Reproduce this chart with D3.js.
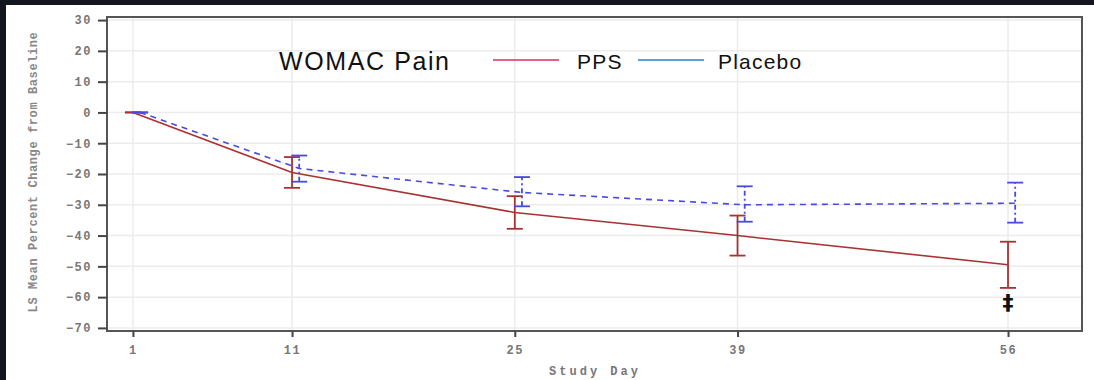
<!DOCTYPE html>
<html>
<head>
<meta charset="utf-8">
<script src="https://cdn.jsdelivr.net/npm/d3@7"></script>
<style>
  body { margin: 0; background: #14161f; }
  svg { display: block; }
</style>
</head>
<body>
<svg id="chart"></svg>
<script>
// study days and LS mean % change
var days = [1, 11, 25, 39, 56];
var ppsMean = [0, -19.5, -32.5, -40, -49.5];
var ppsLow = [0, -24.5, -37.8, -46.5, -57];
var ppsHigh = [0, -14.5, -27.2, -33.5, -42];
var placeboMean = [0, -18.2, -26, -30, -29.5];
var placeboLow = [0, -22.5, -30.5, -35.5, -35.8];
var placeboHigh = [0, -14, -21, -24, -22.8];
var yTicks = [30, 20, 10, 0, -10, -20, -30, -40, -50, -60, -70];

var width = 1094, height = 380;
var svg = d3.select("#chart").attr("width", width).attr("height", height);

// white page with dark strip top and left
svg.append("rect").attr("x", 6).attr("y", 5).attr("width", width - 6).attr("height", height - 5).attr("fill", "#fff");

// plot box (named to avoid window.top)
var pLeft = 107, pRight = 1082, pTop = 17, pBottom = 331;
var x = d3.scaleLinear().domain([-0.63, 60.65]).range([pLeft, pRight]);
var y = d3.scaleLinear().domain([31, -71]).range([pTop, pBottom]);

// grid
svg.append("g").selectAll("line").data(yTicks).enter().append("line")
    .attr("x1", pLeft).attr("x2", pRight)
    .attr("y1", function(d) { return y(d); }).attr("y2", function(d) { return y(d); })
    .attr("stroke", "#ececec").attr("stroke-width", 1.5);
svg.append("g").selectAll("line").data(days).enter().append("line")
    .attr("y1", pTop).attr("y2", pBottom)
    .attr("x1", function(d) { return x(d); }).attr("x2", function(d) { return x(d); })
    .attr("stroke", "#ececec").attr("stroke-width", 1.5);

// frame
svg.append("rect").attr("x", pLeft).attr("y", pTop).attr("width", pRight - pLeft).attr("height", pBottom - pTop)
    .attr("fill", "none").attr("stroke", "#555").attr("stroke-width", 2);

// axes
var mono = "'Liberation Mono', 'DejaVu Sans Mono', monospace";
var yAxis = svg.append("g").attr("transform", "translate(" + pLeft + ",0)")
    .call(d3.axisLeft(y).tickValues(yTicks).tickSize(9).tickPadding(6).tickFormat(function(d) { return String(d).replace("-", "\u2212"); }));
var xAxis = svg.append("g").attr("transform", "translate(0," + pBottom + ")")
    .call(d3.axisBottom(x).tickValues(days).tickSize(6).tickPadding(8));
[yAxis, xAxis].forEach(function(a) {
  a.select(".domain").remove();
  a.selectAll(".tick line").attr("stroke", "#444").attr("stroke-width", 2);
  a.selectAll(".tick text").attr("fill", "#777").style("font-family", mono)
    .style("font-size", "12px").style("font-weight", "bold").style("letter-spacing", "1.5px");
});

svg.append("text").attr("x", 595).attr("y", 375).attr("text-anchor", "middle")
    .style("font-family", mono).style("font-size", "12px").style("font-weight", "bold").style("letter-spacing", "3px")
    .attr("fill", "#777").text("Study Day");
svg.append("text").attr("transform", "translate(37,172) rotate(-90)").attr("text-anchor", "middle")
    .style("font-family", mono).style("font-size", "12px").style("font-weight", "bold").style("letter-spacing", "0.6px")
    .attr("fill", "#888").text("LS Mean Percent Change from Baseline");

// series
function drawSeries(mean, low, high, color, offset, dash, barDash) {
  var pts = days.map(function(d, i) { return { day: d, m: mean[i], lo: low[i], hi: high[i] }; });
  var line = d3.line().x(function(d) { return x(d.day + offset); }).y(function(d) { return y(d.m); });
  svg.append("path").datum(pts).attr("d", line).attr("fill", "none")
      .attr("stroke", color).attr("stroke-width", 1.6).attr("stroke-dasharray", dash);
  var bars = svg.append("g").selectAll("g").data(pts).enter().append("g");
  bars.append("line")
      .attr("x1", function(d) { return x(d.day + offset); }).attr("x2", function(d) { return x(d.day + offset); })
      .attr("y1", function(d) { return y(d.lo); }).attr("y2", function(d) { return y(d.hi); })
      .attr("stroke", color).attr("stroke-width", 1.8).attr("stroke-dasharray", barDash);
  ["lo", "hi"].forEach(function(k) {
    bars.append("line")
        .attr("x1", function(d) { return x(d.day + offset) - 8; }).attr("x2", function(d) { return x(d.day + offset) + 8; })
        .attr("y1", function(d) { return y(d[k]); }).attr("y2", function(d) { return y(d[k]); })
        .attr("stroke", color).attr("stroke-width", 1.8);
  });
}
drawSeries(ppsMean, ppsLow, ppsHigh, "#a83232", 0, null, null);
drawSeries(placeboMean, placeboLow, placeboHigh, "#4a4ae0", 0.45, "6,5", "5,3,2,3");

// significance marker
svg.append("text").attr("x", x(56)).attr("y", y(-61.7) + 8).attr("text-anchor", "middle")
    .style("font-family", "'DejaVu Sans', sans-serif").style("font-size", "22px").style("font-weight", "bold")
    .attr("fill", "#111").text("\u2021");

// title + legend
var sans = "'Liberation Sans', Arial, sans-serif";
svg.append("text").attr("x", 279).attr("y", 70).style("font-family", sans).style("font-size", "25px")
    .style("letter-spacing", "1.6px").attr("fill", "#111").text("WOMAC Pain");
var legend = [{ name: "PPS", color: "#d8305e", x: 493 }, { name: "Placebo", color: "#2a7fd0", x: 638 }];
var lg = svg.append("g").selectAll("g").data(legend).enter().append("g");
lg.append("line").attr("x1", function(d) { return d.x; }).attr("x2", function(d) { return d.x + 66; })
    .attr("y1", 60).attr("y2", 60).attr("stroke", function(d) { return d.color; }).attr("stroke-width", 1.6);
lg.append("text").attr("x", function(d) { return d.x + 84 - (d.name === "PPS" ? 0 : 4); }).attr("y", 69)
    .style("font-family", sans).style("font-size", "21px").style("letter-spacing", "1.2px")
    .attr("fill", "#111").text(function(d) { return d.name; });
</script>
</body>
</html>
